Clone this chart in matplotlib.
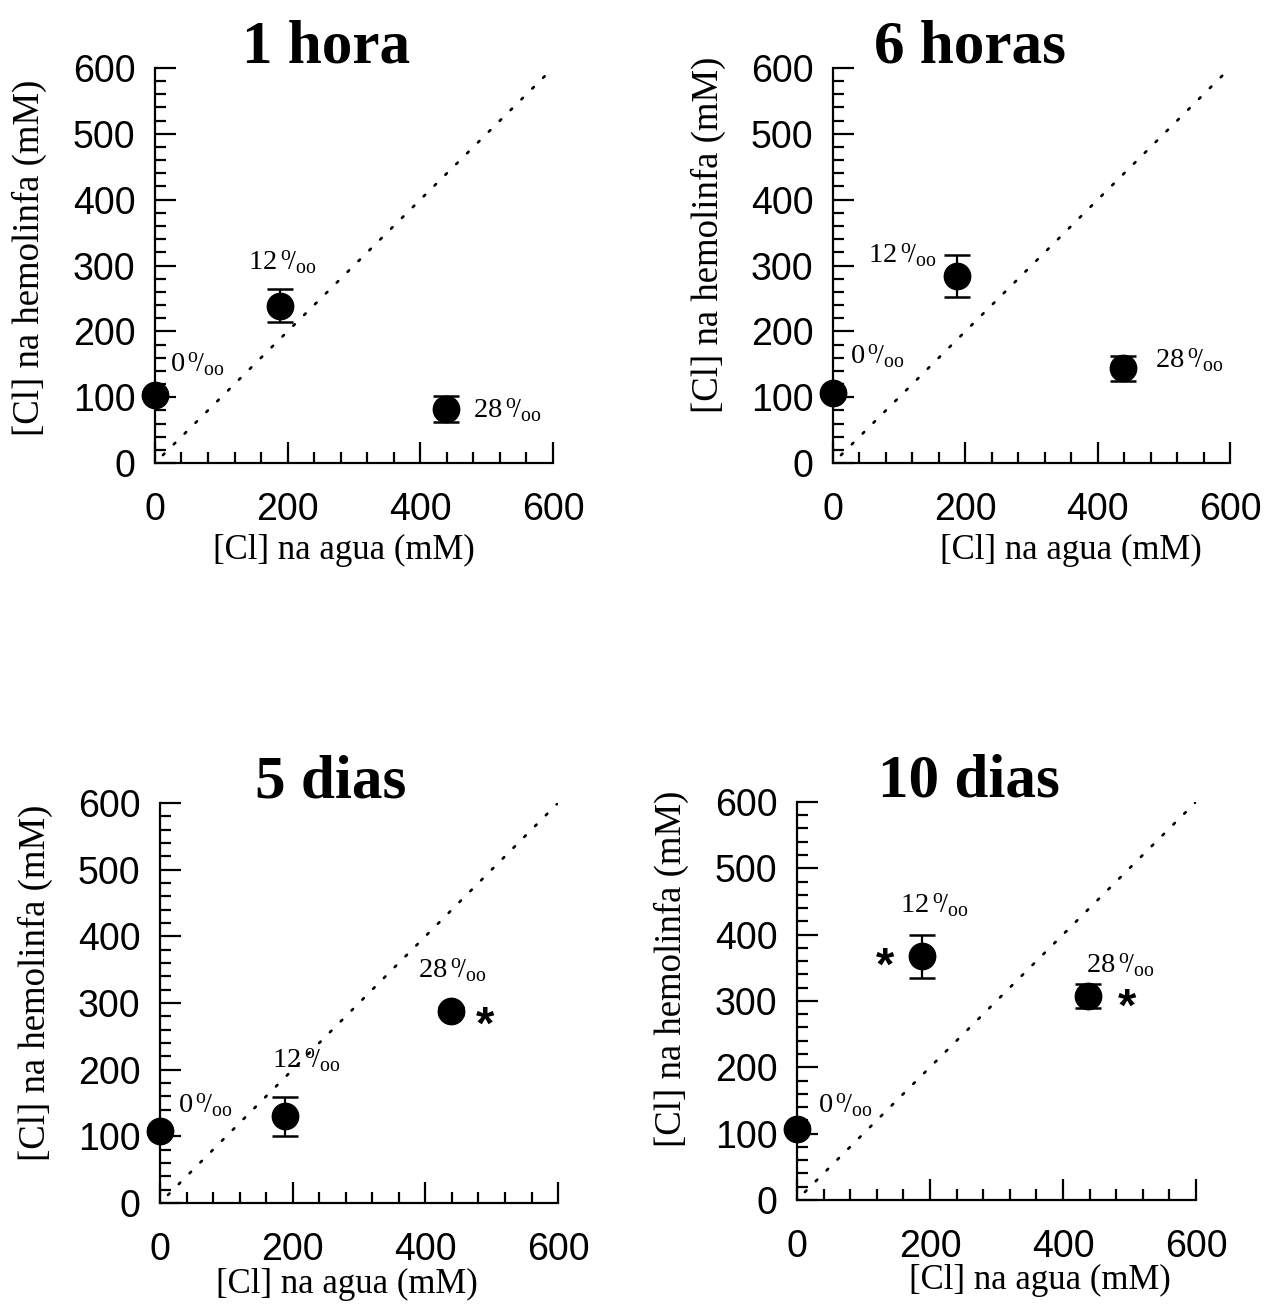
import numpy as np
import matplotlib
matplotlib.use('Agg')
import matplotlib.pyplot as plt
from matplotlib.ticker import MultipleLocator

plt.rcParams['font.family'] = 'Liberation Serif'
plt.rcParams['mathtext.fontset'] = 'custom'
plt.rcParams['mathtext.rm'] = 'Liberation Serif'
plt.rcParams['mathtext.it'] = 'Liberation Serif:italic'
plt.rcParams['mathtext.default'] = 'rm'

# data
titles = ['1 hora', '6 horas', '5 dias', '10 dias']
salinity = ['0', '12', '28']
cl_agua = [0, 188, 438]
hemo_1h = [104, 239, 82]
hemo_6h = [106, 284, 144]
hemo_5d = [108, 130, 288]
hemo_10d = [107, 367, 308]
err_1h = [4, 25, 20]
err_6h = [4, 32, 19]
err_5d = [4, 29, 6]
err_10d = [4, 32, 18]
hemo = [hemo_1h, hemo_6h, hemo_5d, hemo_10d]
errs = [err_1h, err_6h, err_5d, err_10d]

# label positions (data coords), asterisks
lab_pos = [
  [(22, 150), (140, 305), (480, 80)],
  [(26, 163), (53, 316), (486, 156)],
  [(27, 147), (169, 215), (389, 350)],
  [(32, 143), (155, 445), (434, 354)],
]
stars = [[], [], [(490, 264)], [(133, 350), (497, 289)]]

# layout (figure fractions)
boxes = [
  [0.1224, 0.6452, 0.3144, 0.3027],
  [0.6580, 0.6452, 0.3136, 0.3027],
  [0.1264, 0.0782, 0.3144, 0.3065],
  [0.6295, 0.0805, 0.3152, 0.3050],
]
title_x = [0.43, 0.345, 0.43, 0.43]
xlab_x = [0.475, 0.60, 0.47, 0.61]
xlab_y = [-0.18, -0.18, -0.162, -0.162]
ylab_y = [0.52, 0.577, 0.55, 0.58]

fig = plt.figure(figsize=(12.66, 13.05), dpi=100)

for i in range(4):
  ax = fig.add_axes(boxes[i])
  ax.set_xlim(0, 600)
  ax.set_ylim(0, 600)
  for s in ['top', 'right']:
    ax.spines[s].set_visible(False)
  for s in ['left', 'bottom']:
    ax.spines[s].set_linewidth(1.6)

  ax.plot([12, 600], [12, 600], color='black', lw=1.9,
          linestyle=(0, (0.8, 5)), dash_capstyle='round')

  ax.errorbar(cl_agua, hemo[i], yerr=errs[i], fmt='o', color='black',
              ms=19, capsize=9.5, capthick=1.8, elinewidth=1.6, clip_on=False, zorder=5)

  for (lx, ly), s in zip(lab_pos[i], salinity):
    ax.text(lx, ly, s + r'$\,^{o}\!/_{oo}$', fontsize=20.5, va='center', ha='left')
  for sx, sy in stars[i]:
    ax.text(sx, sy, '*', fontsize=34, fontweight='bold', family='Liberation Sans',
            ha='center', va='center')

  ax.xaxis.set_major_locator(MultipleLocator(200))
  ax.xaxis.set_minor_locator(MultipleLocator(40))
  ax.yaxis.set_major_locator(MultipleLocator(100))
  ax.yaxis.set_minor_locator(MultipleLocator(20))
  ax.tick_params(which='both', direction='in', width=1.6)
  ax.tick_params(which='major', length=15)
  ax.tick_params(which='minor', length=8)
  ax.tick_params(axis='x', which='major', pad=21)
  ax.tick_params(axis='y', which='major', pad=14)
  for t in ax.get_xticklabels() + ax.get_yticklabels():
    t.set_family('Liberation Sans')
    t.set_fontsize(27)

  ax.set_xlabel('[Cl] na agua (mM)', fontsize=25)
  ax.set_ylabel('[Cl] na hemolinfa (mM)', fontsize=26.5)
  ax.xaxis.set_label_coords(xlab_x[i], xlab_y[i])
  ax.yaxis.set_label_coords(-0.27, ylab_y[i])

  ax.text(title_x[i], 1.014, titles[i], transform=ax.transAxes, fontsize=44,
          fontweight='bold', ha='center', va='baseline')

fig.savefig('out.png', dpi=100)
